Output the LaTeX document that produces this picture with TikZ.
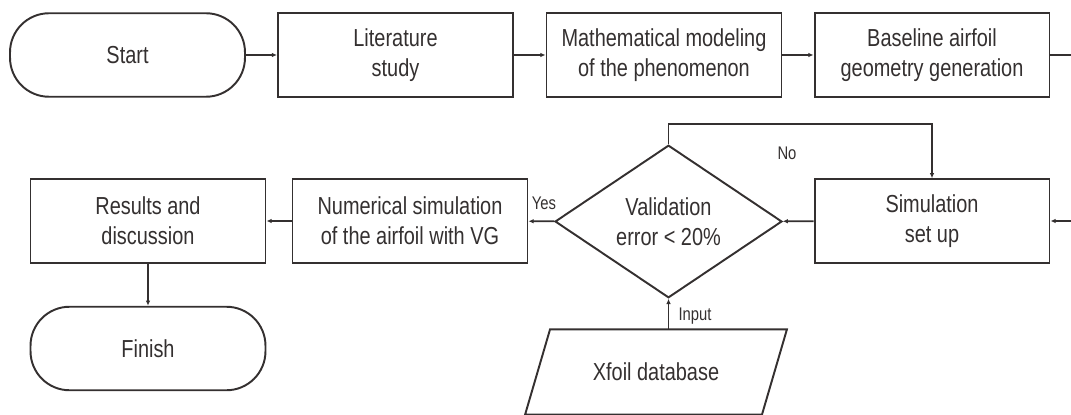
\documentclass[tikz,border=0pt]{standalone}
\usepackage{fontspec}
\setmainfont{Liberation Sans}[FakeStretch=0.81]
\usetikzlibrary{shapes.geometric,arrows.meta}
\definecolor{ln}{RGB}{52,48,48}

\begin{document}
\begin{tikzpicture}[x=0.02cm,y=-0.02cm,
  box/.style={draw=ln,text=ln,line width=1.1pt,minimum width=4.7cm,minimum height=1.67cm,
    align=center,inner sep=2pt,font=\fontsize{14}{17}\selectfont},
  term/.style={box,rounded corners=0.78cm},
  decide/.style={box,diamond,inner sep=0pt,minimum width=4.54cm,minimum height=2.62cm},
  datain/.style={box,draw=none},
  lbl/.style={text=ln,inner sep=0pt,font=\fontsize{10.4}{12}\selectfont},
  edge/.style={draw=ln,line width=0.9pt},
  arr/.style={edge,-{Latex[length=3pt,width=2.6pt]}}]
\useasboundingbox (0,0) rectangle (1071,415);
\node[term] (start) at (127.5,55) {Start};
\node[box] (lit) at (395.5,55) {Literature\\study};
\node[box] (math) at (664,55) {Mathematical modeling\\of the phenomenon};
\node[box] (base) at (932,55) {Baseline airfoil\\geometry generation};
\node[box] (sim) at (932,221) {Simulation\\set up};
\node[decide] (valid) at (668.5,221.5) {Validation\\error < 20\%};
\node[box] (num) at (410,221) {Numerical simulation\\of the airfoil with VG};
\node[box] (res) at (148,221) {Results and\\discussion};
\node[term] (fin) at (148,348.5) {Finish};
\node[datain] (xfoil) at (656,372) {Xfoil database};
\draw[draw=ln,line width=1.1pt] ([xshift=0.25cm]xfoil.north west) -- ([xshift=0.25cm]xfoil.north east)
  -- ([xshift=-0.25cm]xfoil.south east) -- ([xshift=-0.25cm]xfoil.south west) -- cycle;
\node[lbl] (yes) at (544,203) {Yes};
\node[lbl] (no) at (787,153) {No};
\node[lbl] (inp) at (695,316) {Input};
\coordinate (outtop) at (1071,55);
\coordinate (inmid) at (1071,221);
\draw[arr] (start) -- (lit);
\draw[arr] (lit) -- (math);
\draw[arr] (math) -- (base);
\draw[edge] (base) -- (outtop);
\draw[arr] (inmid) -- (sim);
\draw[arr] (sim) -- (valid);
\draw[arr] (valid.north) -- ++(0,-20) -| (sim.north);
\draw[arr] (valid) -- (num);
\draw[arr] (num) -- (res);
\draw[arr] (res) -- (fin);
\draw[arr] (valid.south |- xfoil.north) -- (valid.south);
\end{tikzpicture}
\end{document}
